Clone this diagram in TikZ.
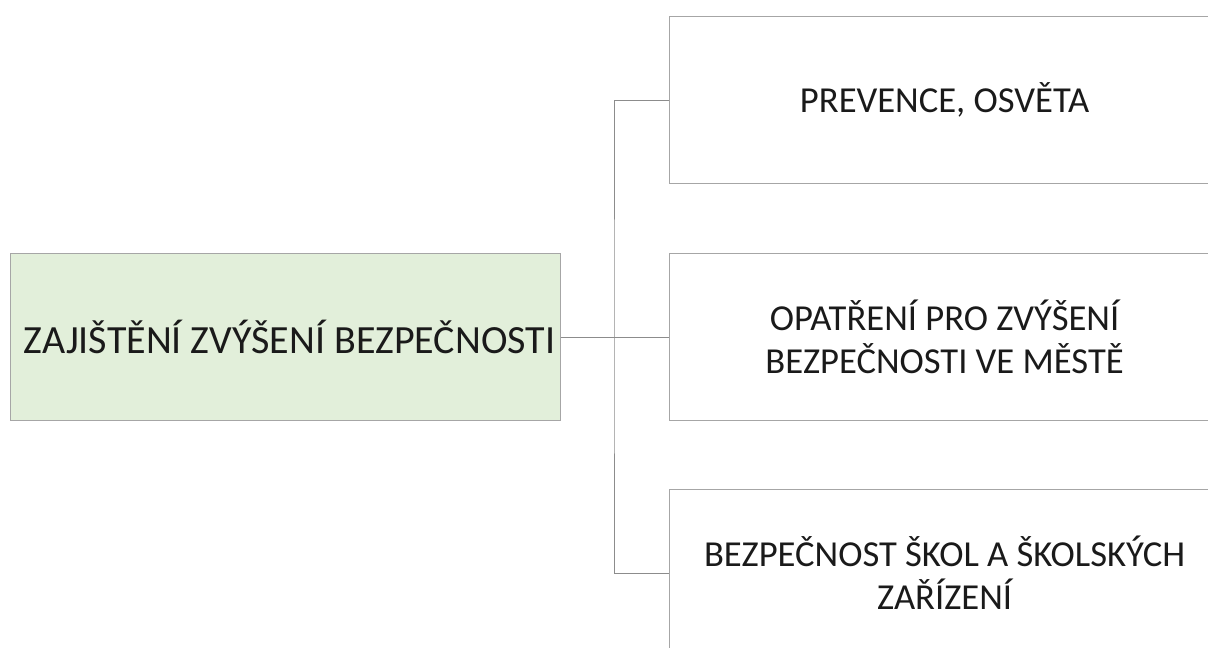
\documentclass[tikz,border=0pt]{standalone}
\usepackage{fontspec}
\setmainfont{Carlito}
\definecolor{boxline}{HTML}{A6A6A6}
\definecolor{conline}{HTML}{8C8C8C}
\definecolor{greenfill}{HTML}{E2EFDA}
\definecolor{txt}{HTML}{1A1A1A}
\begin{document}
\begin{tikzpicture}[x=1pt,y=-1pt,
  box/.style={draw=boxline,line width=1.2pt,minimum width=550pt,minimum height=167pt,
    inner sep=0pt,align=center,text=txt,font=\fontsize{36.6}{43}\selectfont,anchor=north west},
  rootbox/.style={box,fill=greenfill,font=\fontsize{40}{48}\selectfont},
  conn/.style={draw=conline,line width=1pt}]
\useasboundingbox (0,0) rectangle (1208,648);
\begin{scope}
\clip (0,0) rectangle (1208,648);
\node[rootbox] (root) at (10,253) {\hspace*{8pt}ZAJIŠTĚNÍ ZVÝŠENÍ BEZPEČNOSTI};
\node[box] (a) at (669,16) {PREVENCE, OSVĚTA};
\node[box] (b) at (669,253) {OPATŘENÍ PRO ZVÝŠENÍ\\BEZPEČNOSTI VE MĚSTĚ};
\node[box] (c) at (669,489) {BEZPEČNOST ŠKOL A ŠKOLSKÝCH\\ZAŘÍZENÍ};
\coordinate (j) at (614,336);
\draw[conn] (root.east) -- (b.west);
\draw[conn] (a.west) -| (j) |- (c.west);
\end{scope}
\end{tikzpicture}
\end{document}
